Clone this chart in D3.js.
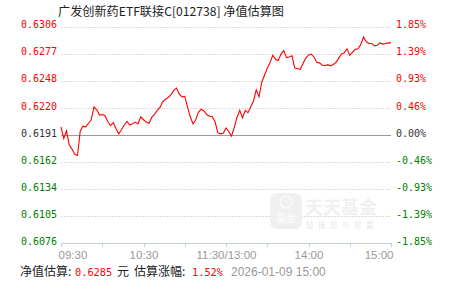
<!DOCTYPE html>
<html>
<head>
<meta charset="utf-8">
<script src="https://cdn.jsdelivr.net/npm/d3@7"></script>
<style>
  body { margin: 0; background: #fff; }
  svg { display: block; }
</style>
</head>
<body>
<div id="chart"></div>
<script>
"use strict";

var title = "广发创新药ETF联接C[012738] 净值估算图";
var pctTicks = [1.85, 1.3875, 0.925, 0.4625, 0, -0.4625, -0.925, -1.3875, -1.85];
var navLabels = ["0.6306", "0.6277", "0.6248", "0.6220", "0.6191", "0.6162", "0.6134", "0.6105", "0.6076"];
var pctLabels = ["1.85%", "1.39%", "0.93%", "0.46%", "0.00%", "-0.46%", "-0.93%", "-1.39%", "-1.85%"];
var timeTicks = [0, 30, 60, 90, 120, 150, 180, 210, 240];
var timeLabels = ["09:30", "", "10:30", "", "11:30/13:00", "", "14:00", "", "15:00"];

// estimated change in %, one reading every 2 trading minutes (09:30 -> 15:00)
var pctChange = [
  0.14, -0.06, 0.07, -0.17, -0.24, -0.33, -0.35, 0.07, 0.15, 0.14,
  0.20, 0.26, 0.48, 0.43, 0.34, 0.35, 0.33, 0.23, 0.16, 0.21,
  0.11, 0.02, 0.09, 0.17, 0.23, 0.17, 0.19, 0.22, 0.19, 0.31,
  0.26, 0.22, 0.20, 0.30, 0.35, 0.42, 0.47, 0.57, 0.61, 0.64,
  0.69, 0.76, 0.80, 0.70, 0.65, 0.66, 0.48, 0.31, 0.19, 0.26,
  0.39, 0.44, 0.41, 0.35, 0.32, 0.31, 0.23, 0.04, 0.02, 0.03,
  0.12, 0.06, -0.02, 0.13, 0.30, 0.42, 0.29, 0.42, 0.38, 0.48,
  0.58, 0.77, 0.65, 0.90, 1.02, 1.14, 1.23, 1.36, 1.29, 1.27,
  1.38, 1.44, 1.32, 1.33, 1.35, 1.14, 1.13, 1.12, 1.22, 1.31,
  1.36, 1.38, 1.33, 1.24, 1.23, 1.19, 1.18, 1.20, 1.18, 1.20,
  1.24, 1.31, 1.38, 1.40, 1.47, 1.36, 1.41, 1.46, 1.47, 1.54,
  1.67, 1.59, 1.56, 1.56, 1.52, 1.53, 1.57, 1.55, 1.56, 1.57,
  1.57
];

var navEstimate = "0.6285";
var pctEstimate = "1.52%";
var stamp = "2026-01-09 15:00";

var width = 451, height = 281;
var plot = { left: 61, right: 391, top: 26.5, bottom: 243.5 };
var mono = "'DejaVu Sans Mono', 'Liberation Mono', monospace";
var cjk = "'Noto Sans CJK SC', 'Noto Sans', sans-serif";
var sans = "'Liberation Sans', Arial, sans-serif";

var colorOf = function(v) {
  if (v > 0) return "#ff0000";
  if (v < 0) return "#008000";
  return "#333333";
};

var svg = d3.select("#chart").append("svg")
  .attr("width", width)
  .attr("height", height);

var x = d3.scaleLinear().domain([0, 240]).range([plot.left, plot.right]);
var y = d3.scaleLinear().domain([-1.85, 1.85]).range([plot.bottom, plot.top]);

// title
svg.append("text")
  .attr("x", 58)
  .attr("y", 16)
  .attr("font-family", cjk)
  .attr("font-size", 12)
  .attr("fill", "#222")
  .attr("textLength", 226)
  .attr("lengthAdjust", "spacingAndGlyphs")
  .text(title);

// dotted grid
svg.append("g").selectAll("line")
  .data(pctTicks.filter(function(d) { return d !== 0 && d !== -1.85; }))
  .enter().append("line")
  .attr("x1", plot.left)
  .attr("x2", plot.right)
  .attr("y1", function(d) { return Math.round(y(d)) + 0.5; })
  .attr("y2", function(d) { return Math.round(y(d)) + 0.5; })
  .attr("stroke", "#dcdcdc")
  .attr("stroke-dasharray", "2,1")
  .attr("shape-rendering", "crispEdges");

// watermark
var wm = svg.append("g").attr("transform", "translate(270,193)");
wm.append("rect")
  .attr("width", 32).attr("height", 36).attr("rx", 7)
  .attr("fill", "#f0f0f0");
wm.append("circle")
  .attr("cx", 16).attr("cy", 9).attr("r", 6)
  .attr("fill", "none").attr("stroke", "#fbfbfb").attr("stroke-width", 1.5);
wm.append("text")
  .attr("x", 16).attr("y", 29)
  .attr("text-anchor", "middle")
  .attr("font-family", cjk).attr("font-size", 10).attr("font-weight", 700)
  .attr("fill", "#fbfbfb")
  .text("基金");
wm.append("text")
  .attr("x", 35).attr("y", 21)
  .attr("font-family", cjk).attr("font-size", 18).attr("font-weight", 700)
  .attr("fill", "#f0f0f0")
  .text("天天基金");
wm.append("text")
  .attr("x", 36).attr("y", 35)
  .attr("font-family", cjk).attr("font-size", 7.5)
  .attr("letter-spacing", 4.5)
  .attr("fill", "#e8e8e8")
  .text("链接您与财富");

// zero line
svg.append("line")
  .attr("x1", plot.left).attr("x2", plot.right)
  .attr("y1", Math.round(y(0)) + 0.5).attr("y2", Math.round(y(0)) + 0.5)
  .attr("stroke", "#999")
  .attr("shape-rendering", "crispEdges");

// bottom time axis
var xAxis = d3.axisBottom(x)
  .tickValues(timeTicks)
  .tickSize(4)
  .tickPadding(3)
  .tickFormat(function(d, i) { return timeLabels[i]; });

var gx = svg.append("g")
  .attr("transform", "translate(0," + Math.round(plot.bottom - 0.5) + ")")
  .call(xAxis);
gx.select(".domain").attr("stroke", "#c4cfdc").attr("shape-rendering", "crispEdges");
gx.selectAll(".tick line").attr("stroke", "#c4cfdc").attr("shape-rendering", "crispEdges");
gx.selectAll(".tick text")
  .attr("fill", "#999")
  .attr("font-family", sans)
  .attr("font-size", 11.5)
  .attr("dy", "0.8em")
  .attr("text-anchor", function(d, i) {
    if (i === 0) return "start";
    if (i === timeTicks.length - 1) return "end";
    return "middle";
  })
  .attr("dx", function(d, i) {
    if (i === 0) return -3;
    if (i === timeTicks.length - 1) return 2;
    return 0;
  });

// left NAV labels
var yLeft = d3.axisLeft(y)
  .tickValues(pctTicks)
  .tickSize(0)
  .tickPadding(4)
  .tickFormat(function(d, i) { return navLabels[i]; });
var gl = svg.append("g").attr("transform", "translate(" + plot.left + ",0)").call(yLeft);
gl.select(".domain").remove();
gl.selectAll(".tick text")
  .attr("font-family", mono)
  .attr("font-size", 10)
  .attr("dy", "0.12em")
  .attr("fill", function(d) { return colorOf(d); });

// right pct labels
var yRight = d3.axisRight(y)
  .tickValues(pctTicks)
  .tickSize(0)
  .tickPadding(5)
  .tickFormat(function(d, i) { return pctLabels[i]; });
var gr = svg.append("g").attr("transform", "translate(" + plot.right + ",0)").call(yRight);
gr.select(".domain").remove();
gr.selectAll(".tick text")
  .attr("font-family", mono)
  .attr("font-size", 10)
  .attr("dy", "0.12em")
  .attr("fill", function(d) { return colorOf(d); });

// estimate line
var line = d3.line()
  .x(function(d, i) { return x(i * 2); })
  .y(function(d) { return y(d); });

svg.append("path")
  .datum(pctChange)
  .attr("d", line)
  .attr("fill", "none")
  .attr("stroke", "#ff0000")
  .attr("stroke-width", 1.1);

// footer
var foot = svg.append("g").attr("transform", "translate(0,276)");
foot.append("text").attr("x", 20)
  .attr("font-family", cjk).attr("font-size", 12).attr("fill", "#222")
  .text("净值估算:");
foot.append("text").attr("x", 75)
  .attr("font-family", mono).attr("font-size", 10.3).attr("fill", "#ff0000")
  .text(navEstimate);
foot.append("text").attr("x", 117)
  .attr("font-family", cjk).attr("font-size", 12).attr("fill", "#222")
  .text("元");
foot.append("text").attr("x", 134)
  .attr("font-family", cjk).attr("font-size", 12).attr("fill", "#222")
  .text("估算涨幅:");
foot.append("text").attr("x", 192)
  .attr("font-family", mono).attr("font-size", 10.3).attr("fill", "#ff0000")
  .text(pctEstimate);
foot.append("text").attr("x", 231)
  .attr("font-family", sans).attr("font-size", 12).attr("fill", "#999")
  .text(stamp);
</script>
</body>
</html>
